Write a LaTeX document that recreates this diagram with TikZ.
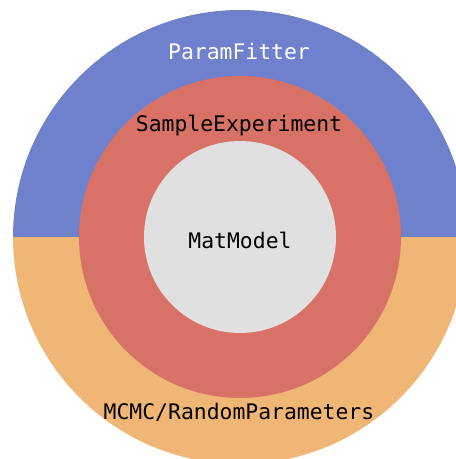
\documentclass[tikz,border=0pt]{standalone}
\usepackage{fontspec}
\setmonofont{DejaVu Sans Mono}
\definecolor{fitterblue}{RGB}{111,128,204}
\definecolor{paramorange}{RGB}{240,182,118}
\definecolor{samplered}{RGB}{216,114,102}
\definecolor{modelgrey}{RGB}{224,224,224}
\begin{document}
\begin{tikzpicture}[x=1pt,y=-1pt]
% Styles
\tikzstyle{layer text}=[anchor=base,font=\ttfamily\fontsize{21.4}{25}\selectfont]
\tikzstyle{layer}=[circle,inner sep=0pt,outer sep=0pt]

\useasboundingbox (0,0) rectangle (456,459);
\clip (0,0) rectangle (456,459);
\coordinate (centre) at (240,237);

% outer ring, two halves
\fill[fitterblue] (13,237) arc[start angle=180,end angle=360,radius=227] -- cycle;
\fill[paramorange] (13,237) arc[start angle=180,end angle=0,radius=227] -- cycle;

% inner layers
\node[layer,fill=samplered,minimum size=322pt] (sample) at (centre) {};
\node[layer,fill=modelgrey,minimum size=192pt] (model) at (centre) {};

% labels
\node[layer text,text=white] (fitterlabel) at (239,59) {ParamFitter};
\node[layer text] (samplelabel) at (239,131) {SampleExperiment};
\node[layer text] (modellabel) at (240,248) {MatModel};
\node[layer text] (mcmclabel) at (239,419) {MCMC/RandomParameters};

\end{tikzpicture}
\end{document}
